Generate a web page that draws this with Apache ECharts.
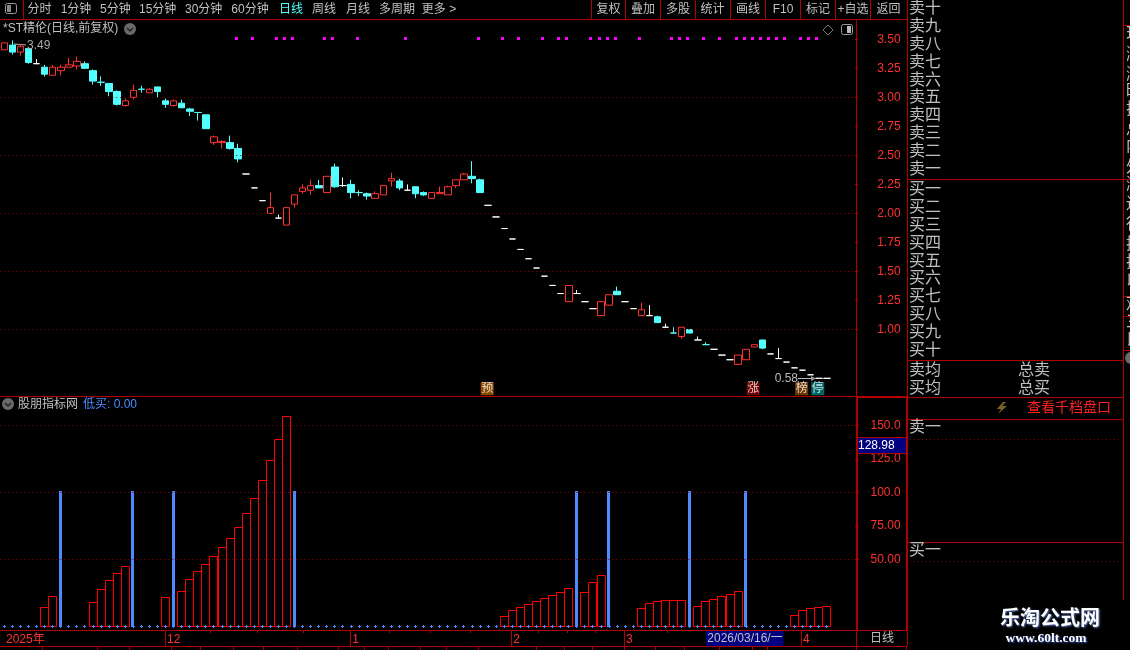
<!DOCTYPE html>
<html>
<head>
<meta charset="utf-8">
<style>html,body{margin:0;padding:0;background:#000;overflow:hidden}#c{width:1130px;height:650px}</style>
<script src="https://cdn.jsdelivr.net/npm/echarts@6/dist/echarts.min.js"></script>
</head>
<body>
<div id="c"></div>
<script>
// ---------- data ----------
const opens  = [3.41,3.45,3.39,3.42,3.29,3.26,3.19,3.23,3.26,3.27, 3.29,3.23,3.13,3.12,3.05,2.93,3.00,3.07,3.04,3.09,
                2.97,2.93,2.95,2.90,2.87,2.85,2.61,2.61,2.61,2.56, 2.34,2.22,2.11,2.00,1.96,1.90,2.08,2.19,2.20,2.24,
                2.18,2.40,2.24,2.25,2.18,2.17,2.13,2.16,2.28,2.28, 2.20,2.23,2.18,2.13,2.17,2.16,2.24,2.29,2.32,2.29,
                2.07,1.97,1.87,1.78,1.69,1.61,1.53,1.46,1.38,1.31, 1.24,1.31,1.24,1.18,1.12,1.21,1.33,1.24,1.18,1.12,
                1.12,1.11,1.02,0.97,0.94,1.00,0.91,0.87,0.83,0.78, 0.74,0.70,0.74,0.85,0.91,0.79,0.75,0.72,0.67,0.65,
                0.61,0.58,0.58];
const closes = [3.47,3.39,3.44,3.30,3.29,3.20,3.26,3.26,3.28,3.31, 3.25,3.14,3.13,3.05,2.94,2.97,3.06,3.07,3.07,3.05,
                2.94,2.97,2.91,2.88,2.87,2.73,2.66,2.62,2.56,2.47, 2.34,2.22,2.11,2.05,1.96,2.05,2.16,2.22,2.24,2.22,
                2.32,2.23,2.24,2.18,2.18,2.15,2.17,2.24,2.30,2.22, 2.20,2.17,2.16,2.18,2.18,2.23,2.29,2.34,2.30,2.18,
                2.07,1.97,1.87,1.78,1.69,1.61,1.53,1.46,1.38,1.31, 1.38,1.31,1.24,1.18,1.24,1.30,1.30,1.24,1.18,1.17,
                1.12,1.06,1.02,0.97,1.02,0.97,0.91,0.87,0.83,0.78, 0.74,0.78,0.83,0.87,0.84,0.79,0.75,0.72,0.67,0.65,
                0.61,0.58,0.58];
const lows   = [3.41,3.37,3.36,3.29,3.29,3.18,3.19,3.19,3.26,3.24, 3.25,3.11,3.10,3.01,2.93,2.92,2.98,3.04,3.04,3.00,
                2.91,2.92,2.91,2.84,2.80,2.73,2.59,2.56,2.55,2.44, 2.34,2.22,2.11,2.00,1.96,1.90,2.05,2.17,2.16,2.22,
                2.18,2.22,2.23,2.13,2.15,2.12,2.13,2.16,2.23,2.20, 2.20,2.13,2.15,2.13,2.17,2.16,2.22,2.29,2.26,2.18,
                2.07,1.97,1.87,1.78,1.69,1.61,1.53,1.46,1.38,1.31, 1.24,1.31,1.24,1.18,1.12,1.21,1.30,1.24,1.18,1.12,
                1.12,1.06,1.02,0.97,0.92,0.97,0.91,0.87,0.83,0.78, 0.74,0.70,0.74,0.85,0.83,0.79,0.75,0.72,0.67,0.65,
                0.61,0.58,0.58];
const highs  = [3.47,3.49,3.46,3.42,3.33,3.28,3.28,3.28,3.34,3.35, 3.31,3.24,3.18,3.12,3.06,2.99,3.11,3.10,3.08,3.09,
                2.99,2.98,2.98,2.91,2.87,2.85,2.67,2.63,2.67,2.60, 2.34,2.22,2.11,2.18,1.99,2.05,2.16,2.25,2.29,2.29,
                2.32,2.43,2.31,2.29,2.20,2.18,2.19,2.24,2.35,2.30, 2.25,2.23,2.19,2.18,2.23,2.24,2.29,2.35,2.45,2.30,
                2.07,1.97,1.87,1.78,1.69,1.61,1.53,1.46,1.38,1.31, 1.38,1.34,1.24,1.18,1.24,1.30,1.37,1.24,1.18,1.23,
                1.21,1.12,1.05,1.02,1.02,1.00,0.94,0.89,0.83,0.78, 0.74,0.78,0.83,0.87,0.91,0.79,0.84,0.72,0.67,0.65,
                0.61,0.58,0.58];
const kinds  = ['r','c','r','c','w','c','r','r','r','r', 'c','c','c','c','c','r','r','c','r','c',
                'c','r','c','c','c','c','r','r','c','c', 'w','w','w','r','w','r','r','r','r','c',
                'r','c','w','c','c','c','r','r','r','c', 'w','c','c','r','r','r','r','r','c','c',
                'w','w','w','w','w','w','w','w','w','w', 'r','w','w','w','r','r','c','w','w','r',
                'w','c','w','c','r','c','w','c','w','w', 'w','r','r','r','c','w','w','w','w','w',
                'w','w','w'];
const signalIdx = [29,31,34,35,36,40,41,44,50,59,62,64,67,69,70,73,74,75,76,79,83,84,85,87,89,91,92,93,94,95,96,97,99,100,101];
const signalLevel = 3.51;
const flagIdx = [60,93,99,101];
const flagText = ['预','涨','榜','停'];
const flagColor = ['#b05a00','#8b0000','#8b4500','#008080'];
const flagLevel = 0.49;

const redIdx = [5,6,11,12,13,14,15,20,22,23,24,25,26,27,28,29,30,31,32,33,34,35,
                62,63,64,65,66,67,68,69,70,72,73,74,79,80,81,82,83,84,86,87,88,89,90,91,98,99,100,101,102];
const redVal = [14.2,22.4,17.9,27.6,34.3,39.6,44.8,21.6,26.1,35.1,41.0,46.3,52.2,59.0,65.7,73.9,84.3,95.5,109.0,123.9,139.6,156.7,
                7.5,11.9,14.2,16.4,18.7,20.9,23.1,25.4,28.4,25.4,32.8,38.1,13.4,17.2,18.7,19.4,19.4,19.4,14.9,18.7,20.1,22.4,23.9,26.1,8.2,11.9,13.4,14.2,14.9];
const blueIdx = [7,16,21,36,71,75,85,92];
const blueVal = [100,100,100,100,100,100,100,100];
const lowBuy = [0,0,0,0,0,0,0,0,0,0, 0,0,0,0,0,0,0,0,0,0, 0,0,0,0,0,0,0,0,0,0, 0,0,0,0,0,0,0,0,0,0,
                0,0,0,0,0,0,0,0,0,0, 0,0,0,0,0,0,0,0,0,0, 0,0,0,0,0,0,0,0,0,0, 0,0,0,0,0,0,0,0,0,0,
                0,0,0,0,0,0,0,0,0,0, 0,0,0,0,0,0,0,0,0,0, 0,0,0];

const priceTicks = [1.00,1.25,1.50,1.75,2.00,2.25,2.50,2.75,3.00,3.25,3.50];
const priceGrid  = [1.00,1.50,2.00,2.50,3.00];
const indTicks   = [50,75,100,125,150];
const indGrid    = [50,100,150];
const indTickText = {50:'50.00',75:'75.00',100:'100.0',125:'125.0',150:'150.0'};
const monthIdx  = [0,20,43,63,77,99];
const monthName = ['2025年','12','1','2','3','4'];

const toolbarL = [['分时',39.5],['1分钟',76],['5分钟',115.3],['15分钟',157.7],['30分钟',203.7],['60分钟',250],['日线',291],['周线',324],['月线',358],['多周期',397],['更多 >',439]];
const toolbarR = [['复权',608.5],['叠加',643],['多股',678],['统计',712.5],['画线',748],['F10',783],['标记',818],['+自选',853],['返回',888.5]];
const askRows = ['卖十','卖九','卖八','卖七','卖六','卖五','卖四','卖三','卖二','卖一'];
const bidRows = ['买一','买二','买三','买四','买五','买六','买七','买八','买九','买十'];
const edgeChars = [['现',35],['涨',55],['涨',75],['昨',92],['振',110],['总',130],['内',147],['外',168],['涨',185],['连',205],['行',225],['换',245],['振',263],['以',282],['观',305],['三',323],['氏',340]];

// ---------- styles ----------
const RED='#ff3232', LINE='#b00000', DOT='#8c0000', CYAN='#54ffff', GREY='#c0c0c0', BAR='#ff0000', BLUE='#4b8bff';
const SANS='"Liberation Sans","Noto Sans CJK SC",sans-serif';
const BAND=8.064, NCAT=106, PLOTW=BAND*NCAT;
const V={r:{color:'#000',color0:'#000',borderColor:RED,borderColor0:RED,borderColorDoji:RED},
         c:{color:CYAN,color0:CYAN,borderColor:CYAN,borderColor0:CYAN,borderColorDoji:CYAN},
         w:{color:'#fff',color0:'#fff',borderColor:'#fff',borderColor0:'#fff',borderColorDoji:'#fff'}};

const axisCats = new Array(NCAT).fill('');
monthIdx.forEach((m,k)=>{axisCats[m]=monthName[k];});

const candleData = opens.map((o,i)=>({value:[o,closes[i],lows[i],highs[i]],itemStyle:Object.assign({borderWidth:1},V[kinds[i]])}));
const zip=(a,b)=>a.map((x,i)=>[x,b[i]]);

// ---------- chrome (panel rules and panel text) ----------
const g=[];
const ln=(x1,y1,x2,y2,c,w)=>g.push({type:'line',silent:true,z:5,shape:{x1,y1,x2,y2},style:{stroke:c||LINE,lineWidth:w||1}});
const tx=(text,x,y,fill,size,align,weight,extra)=>g.push({type:'text',silent:true,z:6,style:Object.assign({text,x,y,fill:fill||GREY,font:(weight||'normal')+' '+(size||12)+'px '+SANS,align:align||'center',textAlign:align||'center',verticalAlign:'middle',textVerticalAlign:'middle'},extra||{})});

// frame
ln(0,19.5,907,19.5);
ln(23.5,0,23.5,19);
ln(907.5,0,907.5,646);
ln(856.5,19,856.5,646);
ln(0,396.5,907,396.5);
ln(856,397.5,907,397.5);
ln(857.5,397,857.5,630);
ln(906.5,397,906.5,630);
ln(0,630.5,907,630.5);
ln(0,646.5,907,646.5);
ln(1123.5,0,1123.5,600);
[179.5,360.5,397.5,419.5,542.5].forEach(y=>ln(907,y,1123,y));
[25.5,179.5,296.5,316.5,350.5].forEach(y=>ln(1124,y,1130,y));
[591.5,625.5,660.5,695.5,730.5,765.5,800.5,835.5,870.5].forEach(x=>ln(x,0,x,19));
// minor date ticks and lower tab rules
[210.5,257.5,303.5,389.5,430.5,470.5,538.5,567.5,595.5,667.5].forEach(x=>ln(x,631,x,633));
[42.5,97.5,129.5,171.5,200.5,233.5,263.5,297.5,338.5,364.5,388.5,420.5,446.5,478.5,536.5,564.5,592.5,624.5,655.5,684.5,719.5,752.5,767.5,856.5,906.5].forEach(x=>ln(x,647,x,650));

toolbarL.forEach(([t,x])=>tx(t,x,10,t==='日线'?CYAN:GREY));
toolbarR.forEach(([t,x])=>tx(t,x,10));

// top-left and chart-corner icons
g.push({type:'rect',silent:true,z:6,shape:{x:5.5,y:3.5,width:11,height:10,r:2},style:{fill:'#000',stroke:'#999',lineWidth:1}});
g.push({type:'rect',silent:true,z:6,shape:{x:7,y:5,width:4,height:7},style:{fill:'#888'}});
g.push({type:'rect',silent:true,z:6,shape:{x:841.5,y:24.5,width:11,height:10,r:2},style:{fill:'#000',stroke:'#999',lineWidth:1}});
g.push({type:'rect',silent:true,z:6,shape:{x:847,y:26,width:4,height:7},style:{fill:'#bbb'}});
g.push({type:'polygon',silent:true,z:6,shape:{points:[[828,25],[833,30],[828,35],[823,30]]},style:{fill:'#000',stroke:'#777',lineWidth:1}});

// title lines
tx('*ST精伦(日线,前复权)',3,29,GREY,12,'left');
[[130,29],[8,404]].forEach(([x,y])=>{
  g.push({type:'circle',silent:true,z:6,shape:{cx:x,cy:y,r:6},style:{fill:'#6a6a6a'}});
  g.push({type:'polyline',silent:true,z:7,shape:{points:[[x-3,y-1],[x,y+2],[x+3,y-1]]},style:{stroke:'#222',fill:'none',lineWidth:1.5}});
});
tx('股朋指标网',18,405,GREY,12,'left');
tx('低买: 0.00',83,405,BLUE,12,'left');

// price extremes
g.push({type:'polyline',silent:true,z:1,shape:{points:[[26,45],[14,44]]},style:{stroke:'#bbb',lineWidth:1,fill:'none'}});
tx('3.49',27,45.5,'#aaa',12,'left');
tx('0.58',798,379,'#bbb',12,'right');
ln(798,378.5,813,378.5,'#bbb',1);
g.push({type:'polygon',silent:true,z:7,shape:{points:[[816,378.5],[811,376],[811,381]]},style:{fill:'#999'}});

// axis side boxes
g.push({type:'rect',silent:true,z:6,shape:{x:858,y:438,width:48,height:15},style:{fill:'#000080'}});
ln(858,437.5,906,437.5); ln(858,453.5,906,453.5);
tx('128.98',858,445.5,'#fff',12,'left');
tx('日线',882,639,GREY,12);
g.push({type:'rect',silent:true,z:6,shape:{x:706,y:631,width:77.5,height:15},style:{fill:'#000080'}});
tx('2026/03/16/一',745,639,GREY,12);

// order book panel
askRows.forEach((t,i)=>tx(t,909,8.5+17.9*i,GREY,16,'left'));
bidRows.forEach((t,i)=>tx(t,909,189.5+17.9*i,GREY,16,'left'));
tx('卖均',909,371,GREY,16,'left'); tx('买均',909,389,GREY,16,'left');
tx('总卖',1018,371,GREY,16,'left'); tx('总买',1018,389,GREY,16,'left');
g.push({type:'polygon',silent:true,z:6,shape:{points:[[1003,402],[997,409],[1001,409],[998,414],[1007,406],[1002,406],[1006,402]]},style:{fill:'#7a6520'}});
tx('查看千档盘口',1027,408.5,'#ff2020',14,'left');
tx('卖一',909,428,GREY,16,'left');
tx('买一',909,551,GREY,16,'left');
[439.5,561.5].forEach(y=>g.push({type:'line',silent:true,z:5,shape:{x1:910,y1:y,x2:1122,y2:y},style:{stroke:DOT,lineWidth:1,lineDash:[1,3]}}));
edgeChars.forEach(([t,y])=>tx(t,1126,y,GREY,16,'left'));
g.push({type:'circle',silent:true,z:6,shape:{cx:1131,cy:358,r:6},style:{fill:'#6a6a6a'}});

// watermark
tx('乐淘公式网',1050,619,'#ffffff',20,'center','bold',{textShadowColor:'#5577bb',textShadowBlur:2,textShadowOffsetX:1,textShadowOffsetY:1});
g.push({type:'text',silent:true,z:6,style:{text:'www.60lt.com',x:1046,y:639,fill:'#ffffff',font:'bold 13.5px "Liberation Serif",serif',align:'center',textAlign:'center',verticalAlign:'middle',textVerticalAlign:'middle',textShadowColor:'#3355bb',textShadowBlur:2,textShadowOffsetX:1,textShadowOffsetY:1}});

const guideLine=(vals,key)=>({silent:true,animation:false,symbol:'none',label:{show:false},emphasis:{disabled:true},
  lineStyle:{color:DOT,width:1,type:[1,3]},data:vals.map(v=>({[key]:v}))});

// crisp pixel-aligned marks, positioned through the axes' own scales
const hollowBar=(p,api)=>{
  const top=api.coord([api.value(0),api.value(1)]), base=api.coord([api.value(0),0]);
  const x=Math.floor(top[0]-4)+0.5, y=Math.round(top[1])+0.5, yb=Math.floor(base[1])+0.5;
  return {type:'rect',shape:{x,y,width:8,height:yb-y},style:{fill:'#000',stroke:BAR,lineWidth:1}};
};
const solidBar=(p,api)=>{
  const top=api.coord([api.value(0),api.value(1)]), base=api.coord([api.value(0),0]);
  const x=Math.floor(top[0]-1.5), y=Math.floor(top[1])-1;
  return {type:'rect',shape:{x,y,width:3,height:Math.floor(base[1])+1-y},style:{fill:BLUE}};
};
const plusMark=(p,api)=>{
  const c=api.coord([api.value(0),api.value(1)]);
  const x=Math.floor(c[0]), y=Math.floor(c[1]);
  return {type:'group',children:[
    {type:'rect',shape:{x:x-1,y:y,width:3,height:1},style:{fill:BLUE}},
    {type:'rect',shape:{x:x,y:y-1,width:1,height:3},style:{fill:BLUE}}]};
};
const signalMark=(p,api)=>{
  const c=api.coord([api.value(0),api.value(1)]);
  return {type:'rect',shape:{x:Math.floor(c[0]-3),y:Math.floor(c[1])-1,width:3,height:3},style:{fill:'#ff00ff'}};
};

const option={
  animation:false,
  backgroundColor:'#000',
  grid:[
    {left:0.27,top:20,width:PLOTW,height:376},
    {left:0.27,top:397,width:PLOTW,height:233},
    {left:-1.4,top:630.5,width:PLOTW,height:16}
  ],
  xAxis:[
    {gridIndex:0,type:'category',data:axisCats,show:false},
    {gridIndex:1,type:'category',data:axisCats,show:false},
    {gridIndex:2,type:'category',data:axisCats,position:'bottom',
      axisLine:{show:false},
      axisTick:{show:true,inside:true,length:16,alignWithLabel:true,lineStyle:{color:LINE},interval:(i,v)=>i>0&&v!==''},
      axisLabel:{show:true,inside:true,interval:(i,v)=>v!=='',color:RED,fontSize:12,fontFamily:SANS,align:'left',margin:1,padding:[0,0,0,2],hideOverlap:false}}
  ],
  yAxis:[
    {gridIndex:0,type:'value',position:'right',min:0.4276,max:3.6664,splitLine:{show:false},axisLine:{show:false},
      axisTick:{show:true,length:3,lineStyle:{color:LINE},customValues:priceTicks},
      axisLabel:{color:RED,fontSize:12,fontFamily:SANS,align:'right',margin:45.5,customValues:priceTicks,formatter:v=>Number(v).toFixed(2)}},
    {gridIndex:1,type:'value',position:'right',min:-2.76,max:171.1,splitLine:{show:false},axisLine:{show:false},
      axisTick:{show:true,length:4,lineStyle:{color:LINE},customValues:indTicks},
      axisLabel:{color:RED,fontSize:12,fontFamily:SANS,align:'right',margin:45.5,customValues:indTicks,formatter:v=>indTickText[v]}},
    {gridIndex:2,type:'value',show:false,min:0,max:1}
  ],
  graphic:{elements:g},
  series:[
    {name:'K',type:'candlestick',xAxisIndex:0,yAxisIndex:0,barWidth:7,data:candleData,z:3,large:false,
      markLine:guideLine(priceGrid,'yAxis')},
    {name:'signal',type:'custom',xAxisIndex:0,yAxisIndex:0,coordinateSystem:'cartesian2d',silent:true,z:4,clip:false,
      renderItem:signalMark,encode:{x:0,y:1},data:signalIdx.map(i=>[i,signalLevel])},
    {name:'flag',type:'scatter',xAxisIndex:0,yAxisIndex:0,symbol:'rect',symbolSize:13,symbolOffset:[-1,0],silent:true,z:4,
      data:flagIdx.map((x,k)=>({value:[x,flagLevel],itemStyle:{color:flagColor[k]},
        label:{show:true,position:'inside',formatter:flagText[k],color:'#fff',fontSize:12,fontFamily:SANS}}))},
    {name:'guide',type:'line',xAxisIndex:1,yAxisIndex:1,data:[],showSymbol:false,z:1,
      markLine:guideLine(indGrid,'yAxis')},
    {name:'red',type:'custom',xAxisIndex:1,yAxisIndex:1,coordinateSystem:'cartesian2d',silent:true,z:3,clip:false,
      renderItem:hollowBar,encode:{x:0,y:1},data:zip(redIdx,redVal)},
    {name:'blue',type:'custom',xAxisIndex:1,yAxisIndex:1,coordinateSystem:'cartesian2d',silent:true,z:4,clip:false,
      renderItem:solidBar,encode:{x:0,y:1},data:zip(blueIdx,blueVal)},
    {name:'低买',type:'custom',xAxisIndex:1,yAxisIndex:1,coordinateSystem:'cartesian2d',silent:true,z:5,clip:false,
      renderItem:plusMark,encode:{x:0,y:1},data:lowBuy.map((v,i)=>[i,v])}
  ]
};
const chart=echarts.init(document.getElementById('c'),null,{renderer:'canvas',width:1130,height:650});
chart.setOption(option);
</script>
</body>
</html>
